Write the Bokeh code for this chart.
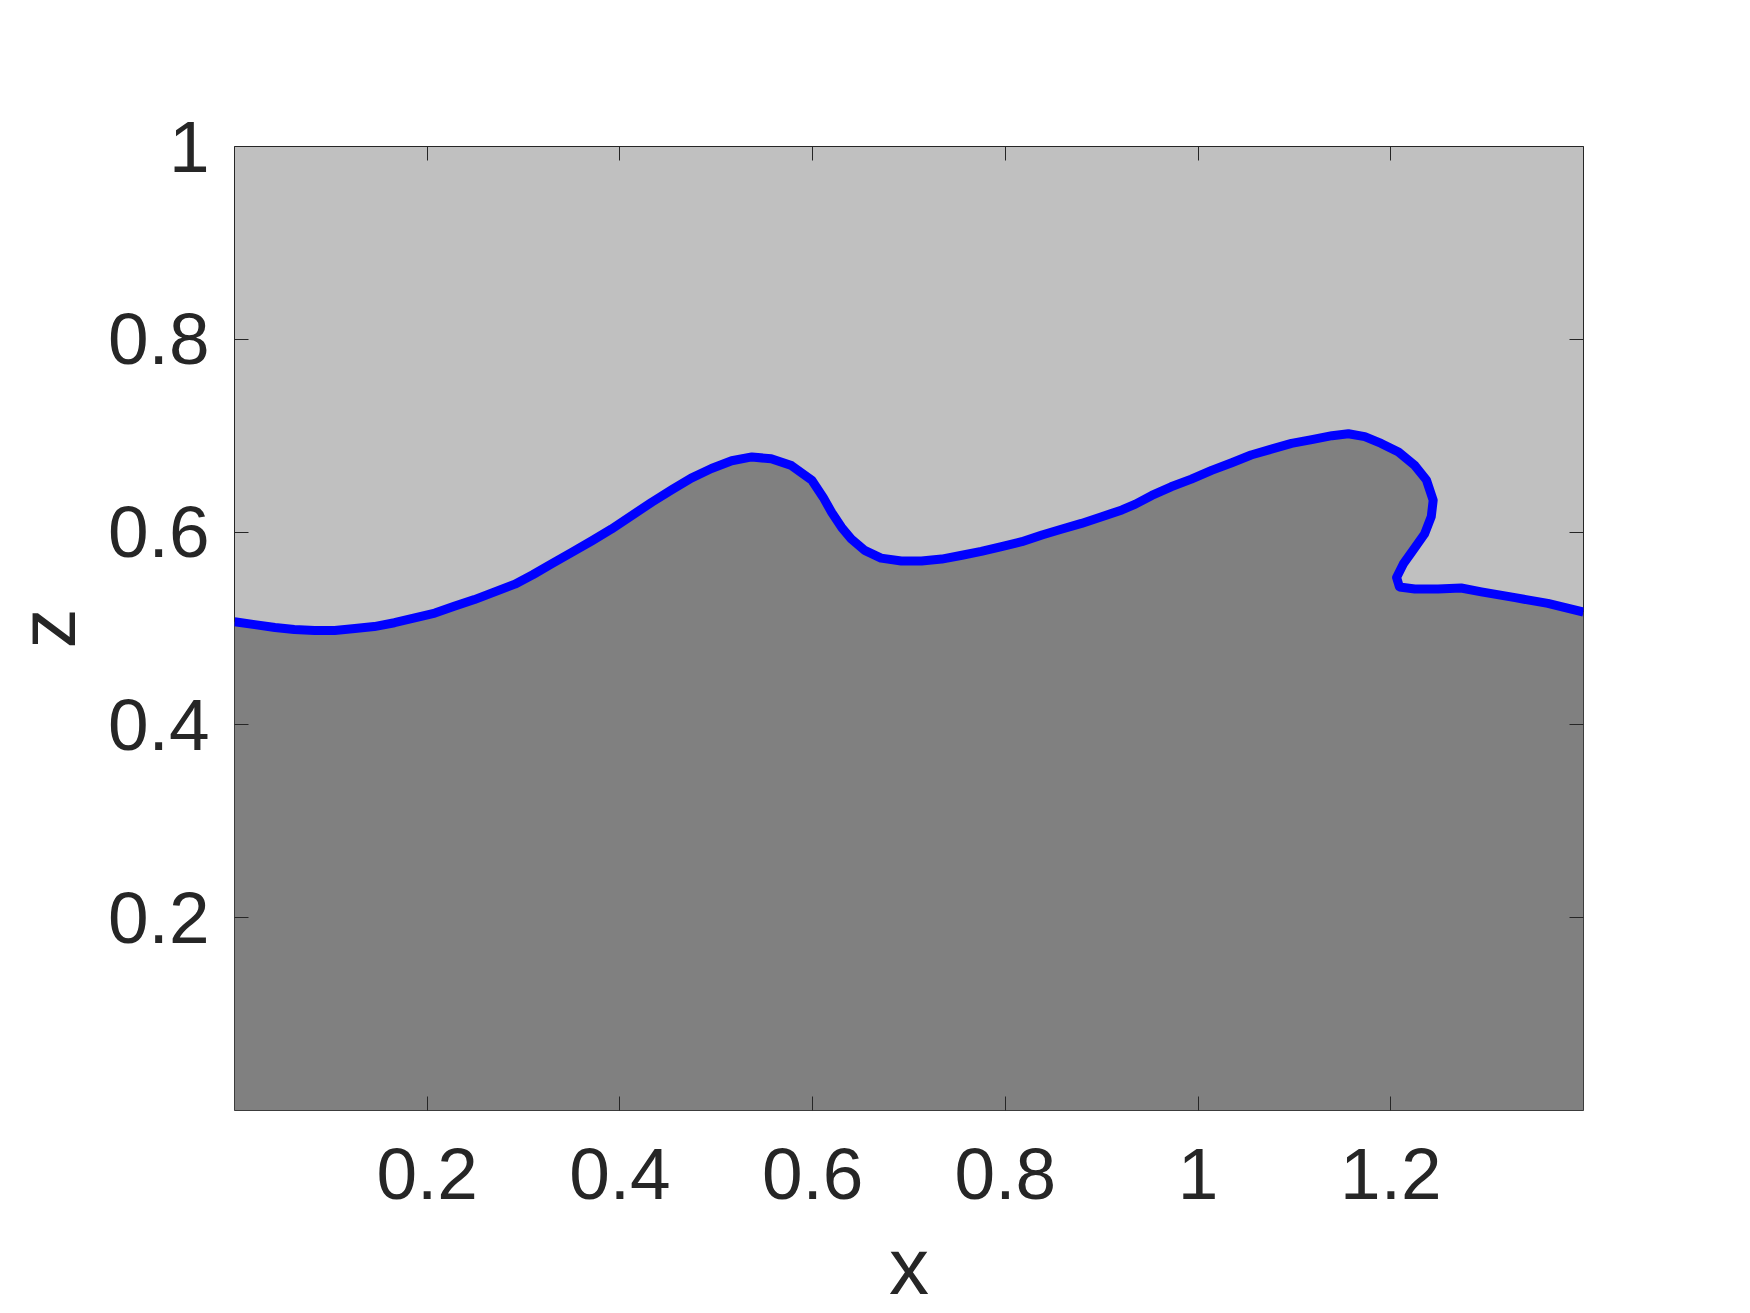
from bokeh.plotting import figure
from bokeh.models import Range1d, FixedTicker, LinearAxis
from bokeh.embed import file_html
from bokeh.resources import INLINE

# interface curve (x, z)
x_vals = [0.000, 0.021, 0.042, 0.062, 0.083, 0.104, 0.125, 0.145, 0.166, 0.187,
          0.208, 0.228, 0.249, 0.270, 0.291, 0.310, 0.329, 0.350, 0.371, 0.391,
          0.412, 0.433, 0.454, 0.474, 0.495, 0.516, 0.537, 0.557, 0.578, 0.599,
          0.611, 0.620, 0.630, 0.640, 0.654, 0.671, 0.692, 0.713, 0.734, 0.755,
          0.775, 0.796, 0.817, 0.838, 0.858, 0.879, 0.900, 0.921, 0.935, 0.952,
          0.972, 0.993, 1.014, 1.035, 1.055, 1.076, 1.097, 1.118, 1.139, 1.156,
          1.173, 1.190, 1.208, 1.225, 1.237, 1.244, 1.242, 1.235, 1.223, 1.213,
          1.206, 1.209, 1.225, 1.249, 1.273, 1.294, 1.329, 1.363, 1.400]
z_vals = [0.507, 0.504, 0.501, 0.499, 0.498, 0.498, 0.500, 0.502, 0.506, 0.511,
          0.516, 0.523, 0.530, 0.538, 0.546, 0.556, 0.567, 0.579, 0.591, 0.603,
          0.617, 0.631, 0.644, 0.656, 0.666, 0.674, 0.678, 0.676, 0.669, 0.654,
          0.636, 0.620, 0.605, 0.593, 0.581, 0.573, 0.570, 0.570, 0.572, 0.576,
          0.580, 0.585, 0.590, 0.597, 0.603, 0.609, 0.616, 0.623, 0.629, 0.638,
          0.647, 0.655, 0.664, 0.672, 0.680, 0.686, 0.692, 0.696, 0.700, 0.702,
          0.699, 0.692, 0.683, 0.669, 0.654, 0.633, 0.616, 0.598, 0.581, 0.567,
          0.553, 0.543, 0.541, 0.541, 0.542, 0.538, 0.532, 0.526, 0.517]
x_ticks = [0.2, 0.4, 0.6, 0.8, 1.0, 1.2]
x_tick_labels = ["0.2", "0.4", "0.6", "0.8", "1", "1.2"]
z_ticks = [0.2, 0.4, 0.6, 0.8, 1.0]
z_tick_labels = ["0.2", "0.4", "0.6", "0.8", "1"]
x_min, x_max = 0.0, 1.4
z_min, z_max = 0.0, 1.0

FONT = "Liberation Sans"
TXT = "#262626"

p = figure(frame_width=1349, frame_height=964,
           x_range=Range1d(x_min, x_max), y_range=Range1d(z_min, z_max),
           output_backend="svg", toolbar_location=None,
           x_axis_location=None, y_axis_location=None,
           min_border_left=225, min_border_top=146,
           min_border_right=150, min_border_bottom=180)
p.background_fill_color = "#c0c0c0"
p.border_fill_color = "white"
p.outline_line_color = TXT
p.outline_line_width = 1
p.grid.visible = False

# lower fluid region
p.patch(x_vals + [x_max, x_min], z_vals + [z_min, z_min],
        fill_color="#808080", line_color=None)
# interface
p.line(x_vals, z_vals, line_color="#0000ff", line_width=9, line_join="round")


def style(ax, labels, ticks, show_labels):
    ax.ticker = FixedTicker(ticks=ticks)
    ax.major_label_overrides = {t: l for t, l in zip(ticks, labels)}
    ax.major_tick_in = 14
    ax.major_tick_out = 0
    ax.minor_tick_in = 0
    ax.minor_tick_out = 0
    ax.major_tick_line_color = TXT
    ax.major_tick_line_width = 1
    ax.axis_line_color = None
    ax.major_label_text_font = FONT
    ax.major_label_text_font_size = "73px"
    ax.major_label_text_color = TXT
    ax.axis_label_text_font = FONT
    ax.axis_label_text_font_size = "80px"
    ax.axis_label_text_color = TXT
    ax.axis_label_text_font_style = "normal"
    if not show_labels:
        ax.major_label_text_font_size = "0px"
        ax.major_label_text_color = None


xb = LinearAxis(axis_label="x")
style(xb, x_tick_labels, x_ticks, True)
xb.major_label_standoff = 38
xb.axis_label_standoff = 20
p.add_layout(xb, "below")

yl = LinearAxis(axis_label="z")
style(yl, z_tick_labels, z_ticks, True)
yl.major_label_standoff = 25
yl.axis_label_standoff = 13
p.add_layout(yl, "left")

xt = LinearAxis()
style(xt, x_tick_labels, x_ticks, False)
p.add_layout(xt, "above")

yr = LinearAxis()
style(yr, z_tick_labels, z_ticks, False)
p.add_layout(yr, "right")

open("out.html", "w").write(file_html(p, INLINE))
